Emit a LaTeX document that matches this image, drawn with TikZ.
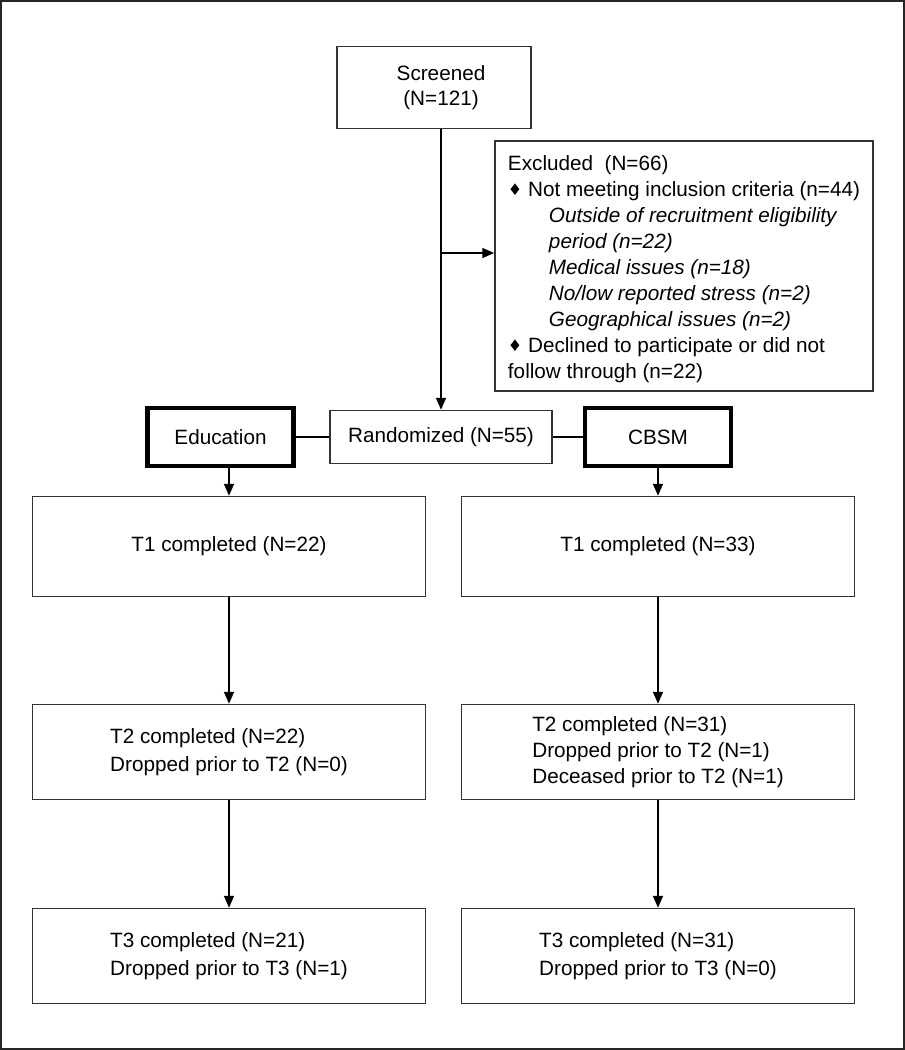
\documentclass[tikz,border=0pt]{standalone}
\usepackage{fontspec}
\setmainfont{Liberation Sans}
\newfontfamily\symfont{DejaVu Sans}
\usetikzlibrary{arrows.meta}
\newcommand{\dmd}{{\symfont\fontsize{16}{16}\selectfont\raisebox{1pt}{♦}}}
\begin{document}
\begin{tikzpicture}[
		x=1pt, y=-1pt,
		box/.style={draw=black!80, line width=1.5pt, inner sep=0pt, align=left,
			font=\fontsize{20.7}{27.8}\selectfont},
		armbox/.style={draw=black, line width=4.5pt, inner sep=0pt, minimum width=146pt,
			minimum height=58pt, font=\fontsize{20.7}{25}\selectfont},
		link/.style={draw=black, line width=1.6pt},
		arrow/.style={link, -{Triangle[length=12pt,width=10pt]}}
	]
	\useasboundingbox (0,0) rectangle (905,1050);
	\draw[black!85, line width=2.4pt] (1.2,1.2) rectangle (903.8,1048.8);

	\node[box, align=center, minimum width=194pt, minimum height=82pt,
		font=\fontsize{20.7}{24.5}\selectfont] (screened) at (434,87.5) {\hspace*{14pt}Screened\\\hspace*{14pt}(N=121)};
	\node[box, minimum width=378pt, minimum height=250pt,
		font=\fontsize{20.7}{26}\selectfont] (excluded) at (684,266) {
			\rule{0pt}{21pt}Excluded\ \ (N=66)\\
			\dmd\ Not meeting inclusion criteria (n=44)\\
			\hspace*{41pt}\textit{Outside of recruitment eligibility}\\
			\hspace*{41pt}\textit{period (n=22)}\\
			\hspace*{41pt}\textit{Medical issues (n=18)}\\
			\hspace*{41pt}\textit{No/low reported stress (n=2)}\\
			\hspace*{41pt}\textit{Geographical issues (n=2)}\\
			\dmd\ Declined to participate or did not\\
			follow through (n=22)};
	\node[box, minimum width=222pt, minimum height=53pt] (randomized) at (441,437) {Randomized (N=55)};
	\node[armbox] (education) at (220.5,437) {Education};
	\node[armbox] (cbsm) at (658,437) {CBSM};

	\node[box, minimum width=393pt, minimum height=100pt] (t1edu) at (229,546.5) {T1 completed (N=22)};
	\node[box, minimum width=393pt, minimum height=100pt] (t1cbsm) at (658,546.5) {T1 completed (N=33)};
	\node[box, minimum width=393pt, minimum height=95pt] (t2edu) at (229,752) {T2 completed (N=22)\\Dropped prior to T2 (N=0)};
	\node[box, minimum width=393pt, minimum height=95pt,
		font=\fontsize{20.7}{25.7}\selectfont] (t2cbsm) at (658,752) {T2 completed (N=31)\\Dropped prior to T2 (N=1)\\Deceased prior to T2 (N=1)};
	\node[box, minimum width=393pt, minimum height=95pt] (t3edu) at (229,956) {T3 completed (N=21)\\Dropped prior to T3 (N=1)};
	\node[box, minimum width=393pt, minimum height=95pt] (t3cbsm) at (658,956) {T3 completed (N=31)\\Dropped prior to T3 (N=0)};

	\coordinate (branch) at (441,253);
	\draw[arrow] (branch |- screened.south) -- (branch |- randomized.north);
	\draw[arrow] (branch) -- (branch -| excluded.west);
	\draw[link] (education) -- (randomized);
	\draw[link] (randomized) -- (cbsm);
	\draw[arrow] (t1edu.north |- education.south) -- (t1edu.north);
	\draw[arrow] (t1cbsm.north |- cbsm.south) -- (t1cbsm.north);
	\draw[arrow] (t1edu) -- (t2edu);
	\draw[arrow] (t2edu) -- (t3edu);
	\draw[arrow] (t1cbsm) -- (t2cbsm);
	\draw[arrow] (t2cbsm) -- (t3cbsm);
\end{tikzpicture}
\end{document}
